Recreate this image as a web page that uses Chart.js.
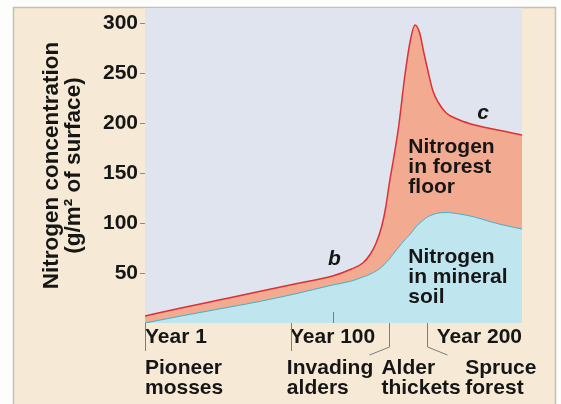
<!DOCTYPE html>
<html>
<head>
<meta charset="utf-8">
<script src="https://cdn.jsdelivr.net/npm/chart.js@4.4.1/dist/chart.umd.min.js"></script>
<style>
  html, body { margin: 0; padding: 0; background: #fdfdfb; }
</style>
</head>
<body>
<canvas id="nitrogenChart" width="561" height="404"></canvas>
<script>
// years since glacier retreat, shared by both curves
const years = [1, 20, 40, 60, 80, 100, 110, 116, 120, 123, 126, 128, 130, 132, 135, 138, 141, 143.5, 146, 148, 150, 153, 156, 160, 167, 175, 182, 190, 200];
// top curve: mineral soil + forest floor
const totalNitrogen = [7, 15, 23, 31, 39, 47, 54, 60, 69, 80, 97, 115, 140, 162, 198, 245, 282, 298, 290, 272, 255, 232, 220, 210, 203, 198, 195, 192, 188];
// lower curve: nitrogen in mineral soil
const mineralSoil = [0, 7, 14, 21, 29, 38, 42, 46, 49, 52, 56, 60, 64, 69, 76, 83, 89, 95, 100, 103, 106, 108.5, 110, 110.5, 109, 106, 102, 98, 94];

const yTicks = [50, 100, 150, 200, 250, 300];
const xTicks = [1, 100, 200];
const stageStarts = [1, 78, 130, 150];
const stageNames = [['Pioneer', 'mosses'], ['Invading', 'alders'], ['Alder', 'thickets'], ['Spruce', 'forest']];

const FONT = "'Liberation Sans', Arial, Helvetica, sans-serif";
const INK = '#161616';

const toPoints = vals => vals.map((v, i) => ({ x: years[i], y: v }));

// backgrounds + all the extra annotation text
const decorPlugin = {
    id: 'decor',
    beforeDraw(chart) {
        const { ctx, chartArea: a } = chart;
        ctx.save();
        ctx.fillStyle = '#fdfdfb';
        ctx.fillRect(0, 0, chart.width, chart.height);
        ctx.fillStyle = '#f6ead6';
        ctx.fillRect(13, 7, 542, 397);
        ctx.strokeStyle = '#c4bfb4';
        ctx.lineWidth = 1.5;
        ctx.beginPath();
        ctx.moveTo(13.5, 404); ctx.lineTo(13.5, 7.5); ctx.lineTo(555.5, 7.5); ctx.lineTo(555.5, 404);
        ctx.stroke();
        ctx.fillStyle = '#dfe4ee';
        ctx.fillRect(a.left, a.top, a.right - a.left, a.bottom - a.top);
        ctx.restore();
    },
    afterDraw(chart) {
        const { ctx, chartArea: a } = chart;
        const xs = chart.scales.x, ys = chart.scales.y;
        ctx.save();

        // little inner tick at Year 100
        ctx.strokeStyle = '#7d7d7d';
        ctx.lineWidth = 1;
        const t100 = Math.round(xs.getPixelForValue(100)) + 0.5;
        ctx.beginPath(); ctx.moveTo(t100, a.bottom - 11); ctx.lineTo(t100, a.bottom); ctx.stroke();

        // stage separators under the axis
        const bend = [0, 0, -20, 20];
        stageStarts.forEach((yr, i) => {
            const px = Math.round(xs.getPixelForValue(yr)) + 0.5;
            ctx.beginPath();
            ctx.moveTo(px, a.bottom);
            if (bend[i] === 0) {
                ctx.lineTo(px, a.bottom + 28);
            } else {
                ctx.lineTo(px, a.bottom + 24);
                ctx.lineTo(px + bend[i], a.bottom + 32);
            }
            ctx.stroke();
        });

        // stage names
        ctx.fillStyle = INK;
        ctx.font = `bold 21px ${FONT}`;
        ctx.textBaseline = 'alphabetic';
        ctx.textAlign = 'left';
        const nameShift = [0, -4, -8, 38];
        stageNames.forEach((lines, i) => {
            const px = xs.getPixelForValue(stageStarts[i]) + nameShift[i];
            lines.forEach((ln, j) => ctx.fillText(ln, px, 374 + j * 20));
        });

        // region labels inside the plot
        const floorLbl = ['Nitrogen', 'in forest', 'floor'];
        const soilLbl = ['Nitrogen', 'in mineral', 'soil'];
        const lx = xs.getPixelForValue(140);
        floorLbl.forEach((ln, j) => ctx.fillText(ln, lx, ys.getPixelForValue(170) + j * 20));
        soilLbl.forEach((ln, j) => ctx.fillText(ln, lx, ys.getPixelForValue(60) + j * 20));

        // b and c markers
        ctx.font = `italic bold 21px ${FONT}`;
        ctx.textAlign = 'center';
        ctx.textBaseline = 'middle';
        ctx.fillText('b', xs.getPixelForValue(101), ys.getPixelForValue(64));
        ctx.fillText('c', xs.getPixelForValue(179.5), ys.getPixelForValue(210));
        ctx.restore();
    }
};

new Chart(document.getElementById('nitrogenChart').getContext('2d'), {
    type: 'line',
    data: {
        datasets: [
            {
                label: 'Nitrogen in mineral soil',
                data: toPoints(mineralSoil),
                borderColor: '#45aec4',
                borderWidth: 1,
                backgroundColor: '#bfe5ef',
                fill: 'origin',
                pointRadius: 0,
                cubicInterpolationMode: 'monotone'
            },
            {
                label: 'Nitrogen in forest floor',
                data: toPoints(totalNitrogen),
                borderColor: '#dc3035',
                borderWidth: 1.5,
                backgroundColor: '#f2aa91',
                fill: '-1',
                pointRadius: 0,
                cubicInterpolationMode: 'monotone'
            }
        ]
    },
    options: {
        responsive: false,
        animation: false,
        layout: { padding: { top: 8, right: 39, left: 0, bottom: 0 } },
        plugins: { legend: { display: false }, tooltip: { enabled: false } },
        scales: {
            x: {
                type: 'linear',
                min: 1,
                max: 200,
                afterBuildTicks: s => { s.ticks = xTicks.map(v => ({ value: v })); },
                afterFit: s => { s.height = 81; s.paddingLeft = 0; s.paddingRight = 0; },
                grid: { display: false },
                border: { display: false },
                ticks: {
                    align: 'inner',
                    maxRotation: 0,
                    padding: -6,
                    color: INK,
                    font: { family: FONT, size: 21, weight: 'bold' },
                    callback: v => `Year ${v}`
                }
            },
            y: {
                min: 0,
                max: 315,
                afterBuildTicks: s => { s.ticks = yTicks.map(v => ({ value: v })); },
                afterFit: s => { s.width = 145; s.paddingTop = 0; s.paddingBottom = 0; },
                grid: { drawOnChartArea: false, tickLength: 5, color: '#8a8a8a' },
                border: { display: false },
                ticks: {
                    padding: 2,
                    color: INK,
                    font: { family: FONT, size: 21, weight: 'bold' }
                },
                title: {
                    display: true,
                    text: ['Nitrogen concentration', '(g/m² of surface)'],
                    color: INK,
                    font: { family: FONT, size: 22.5, weight: 'bold', lineHeight: 0.98 },
                    padding: { top: 41, bottom: 0 }
                }
            }
        }
    },
    plugins: [decorPlugin]
});
</script>
</body>
</html>
